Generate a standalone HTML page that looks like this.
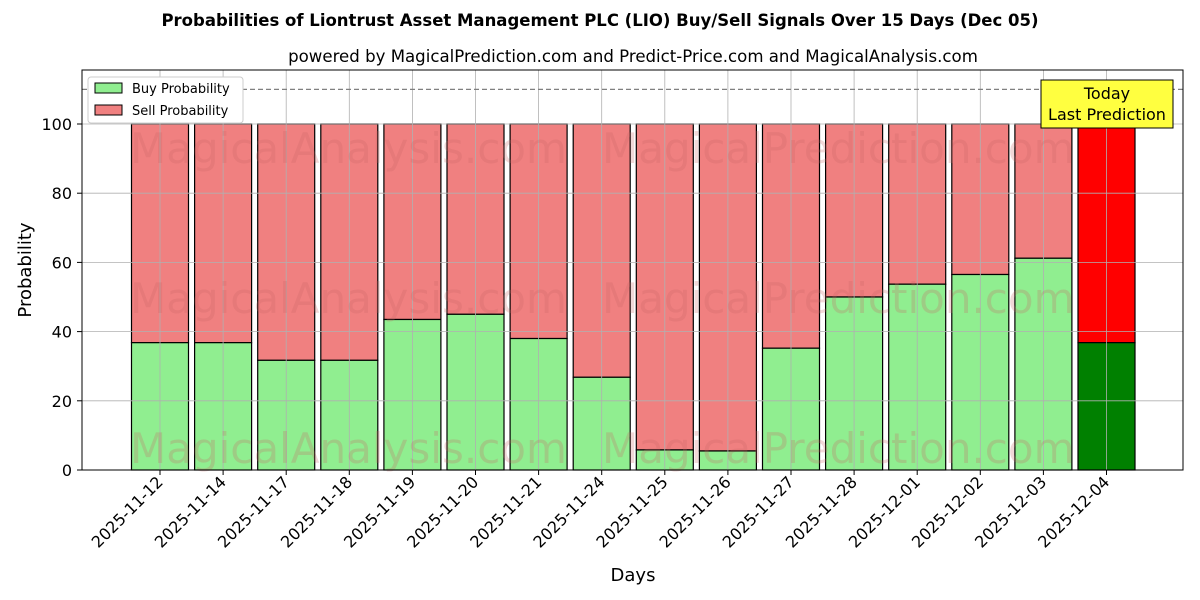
<!DOCTYPE html>
<html><head><meta charset="utf-8"><style>body{margin:0;background:#fff}svg{display:block}text{font-family:"DejaVu Sans","Liberation Sans",sans-serif}</style></head><body>
<svg width="1200" height="600" viewBox="0 0 1200 600" xmlns="http://www.w3.org/2000/svg">
<rect width="1200" height="600" fill="#fff"/>
<text x="600" y="26" text-anchor="middle" font-size="16.5" font-weight="bold">Probabilities of Liontrust Asset Management PLC (LIO) Buy/Sell Signals Over 15 Days (Dec 05)</text>
<text x="633" y="62" text-anchor="middle" font-size="16.6">powered by MagicalPrediction.com and Predict-Price.com and MagicalAnalysis.com</text>
<g id="bars" stroke="#000" stroke-width="1.2"></g>
<g id="grid" stroke="#b0b0b0" stroke-width="0.8"></g>
<g font-size="42" fill="rgba(200,100,100,0.25)">
<text x="130" y="163">MagicalAnalysis.com</text><text x="602" y="163">MagicalPrediction.com</text>
<text x="130" y="313">MagicalAnalysis.com</text><text x="602" y="313">MagicalPrediction.com</text>
<text x="130" y="463">MagicalAnalysis.com</text><text x="602" y="463">MagicalPrediction.com</text>
</g>
<line x1="82" y1="89.4" x2="1183" y2="89.4" stroke="#808080" stroke-width="1.2" stroke-dasharray="5,3"/>
<rect x="82" y="70" width="1101" height="400" fill="none" stroke="#000" stroke-width="1"/>
<g id="ticks" font-size="16"></g>
<text x="633" y="581" text-anchor="middle" font-size="18">Days</text>
<text transform="translate(31,270) rotate(-90)" text-anchor="middle" font-size="18">Probability</text>
<rect x="88" y="77" width="155" height="46" fill="#fff" stroke="#ccc" rx="3"/>
<rect x="95" y="83" width="27" height="10" fill="#90ee90" stroke="#000"/>
<text x="132" y="93" font-size="13">Buy Probability</text>
<rect x="95" y="105" width="27" height="10" fill="#f08080" stroke="#000"/>
<text x="132" y="115" font-size="13">Sell Probability</text>
<rect x="1041" y="80" width="132" height="48" fill="#ffff40" stroke="#000"/>
<text x="1107" y="99" text-anchor="middle" font-size="16">Today</text>
<text x="1107" y="120" text-anchor="middle" font-size="16">Last Prediction</text>
</svg>
<script>
const buy=[36.8,36.8,31.7,31.7,43.5,45,38,26.8,5.8,5.5,35.2,50,53.7,56.5,61.2,36.8];
const lab=["2025-11-12","2025-11-14","2025-11-17","2025-11-18","2025-11-19","2025-11-20","2025-11-21","2025-11-24","2025-11-25","2025-11-26","2025-11-27","2025-11-28","2025-12-01","2025-12-02","2025-12-03","2025-12-04"];
const Y=v=>470-3.46*v,ns="http://www.w3.org/2000/svg";
const mk=(p,t,a)=>{const e=document.createElementNS(ns,t);for(const k in a)e.setAttribute(k,a[k]);p.appendChild(e);return e;};
const b=document.getElementById("bars"),g=document.getElementById("grid"),tk=document.getElementById("ticks");
buy.forEach((v,i)=>{const c=160+i*63.1,l=i==15;
mk(b,"rect",{x:c-28.5,y:Y(100),width:57,height:Y(v)-Y(100),fill:l?"#ff0000":"#f08080"});
mk(b,"rect",{x:c-28.5,y:Y(v),width:57,height:470-Y(v),fill:l?"#008000":"#90ee90"});
mk(g,"line",{x1:c,x2:c,y1:70,y2:470});
mk(tk,"line",{x1:c,x2:c,y1:470,y2:475,stroke:"#000"});
const t=mk(tk,"text",{transform:`translate(${c+4},483) rotate(-45)`,"text-anchor":"end"});t.textContent=lab[i];});
for(let v=0;v<=100;v+=20){const y=Y(v);mk(g,"line",{x1:82,x2:1183,y1:y,y2:y});
mk(tk,"line",{x1:77,x2:82,y1:y,y2:y,stroke:"#000"});
const t=mk(tk,"text",{x:72,y:y+6,"text-anchor":"end"});t.textContent=v;}
</script>
</body></html>
